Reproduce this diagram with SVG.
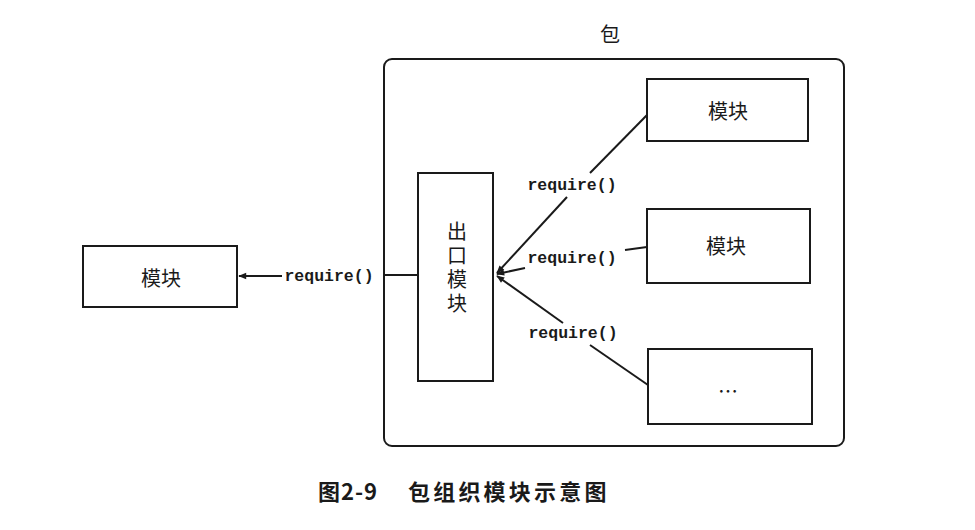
<svg xmlns="http://www.w3.org/2000/svg" width="975" height="530" viewBox="0 0 975 530">
<style>
.box{fill:#fff;stroke:#1a1a1a;stroke-width:2}
.ln{fill:none;stroke:#1a1a1a;stroke-width:2}
.cn{font-family:"Noto Sans CJK SC","Noto Sans",sans-serif;font-size:20px;fill:#1a1a1a;text-anchor:middle;dominant-baseline:central}
.rq{font-family:"Liberation Mono","DejaVu Sans Mono",monospace;font-size:16.5px;font-weight:bold;fill:#1a1a1a;text-anchor:middle;dominant-baseline:central}
.cap{font-family:"Noto Sans CJK SC",sans-serif;font-size:22px;font-weight:bold;fill:#1a1a1a;dominant-baseline:central}
</style>
<defs>
<marker id="ah" viewBox="0 0 10 10" refX="9" refY="5" markerWidth="10" markerHeight="8" orient="auto-start-reverse" markerUnits="userSpaceOnUse">
<path d="M0,1 L10,5 L0,9 z" fill="#1a1a1a"/>
</marker>
</defs>
<rect width="975" height="530" fill="#fff"/>
<g id="package">
<text class="cn" x="610" y="33">包</text>
<rect class="box" x="384" y="59" width="460" height="387" rx="8"/>
</g>
<g id="connectors">
<line class="ln" x1="282" y1="276" x2="239" y2="276" marker-end="url(#ah)"/>
<line class="ln" x1="383" y1="275" x2="418" y2="275"/>
<line class="ln" x1="590" y1="173" x2="647" y2="115"/>
<line class="ln" x1="567" y1="197" x2="497" y2="273" marker-end="url(#ah)"/>
<line class="ln" x1="525" y1="268" x2="497" y2="274" marker-end="url(#ah)"/>
<line class="ln" x1="625" y1="250" x2="647" y2="247"/>
<line class="ln" x1="563" y1="323" x2="497" y2="276" marker-end="url(#ah)"/>
<line class="ln" x1="590" y1="345" x2="648" y2="385"/>
<text class="rq" x="329" y="276">require()</text>
<text class="rq" x="572" y="185">require()</text>
<text class="rq" x="572" y="258">require()</text>
<text class="rq" x="573" y="333">require()</text>
</g>
<g id="left-module">
<rect class="box" x="83" y="246" width="154" height="61"/>
<text class="cn" x="161" y="277">模块</text>
</g>
<g id="export-module">
<rect class="box" x="418" y="173" width="75" height="208"/>
<text x="457" y="221" font-family="'Noto Sans CJK SC',sans-serif" font-size="20" fill="#1a1a1a" writing-mode="vertical-rl" letter-spacing="4">出口模块</text>
</g>
<g id="module-1">
<rect class="box" x="647" y="79" width="161" height="62"/>
<text class="cn" x="728" y="110">模块</text>
</g>
<g id="module-2">
<rect class="box" x="647" y="209" width="163" height="74"/>
<text class="cn" x="726" y="245">模块</text>
</g>
<g id="module-3">
<rect class="box" x="648" y="349" width="164" height="75"/>
<text class="cn" x="728" y="390">…</text>
</g>
<text class="cap" x="318" y="490" letter-spacing="1">图2-9</text>
<text class="cap" x="408" y="490" letter-spacing="3.2">包组织模块示意图</text>
</svg>
